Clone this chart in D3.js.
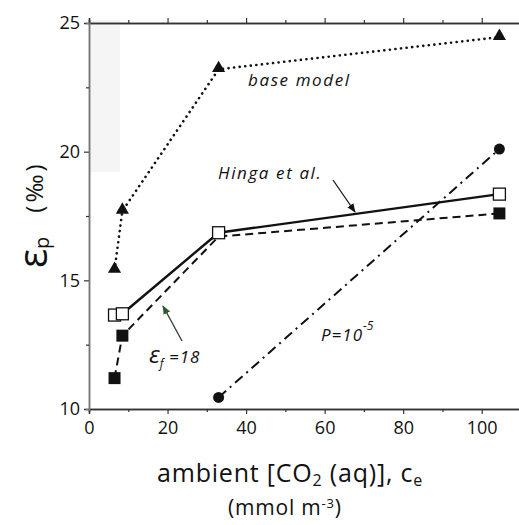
<!DOCTYPE html>
<html>
<head>
<meta charset="utf-8">
<script src="https://cdn.jsdelivr.net/npm/d3@7"></script>
<style>
  body { margin: 0; background: #fff; }
  text { font-family: "Open Sans", "DejaVu Sans", sans-serif; fill: #111; }
</style>
</head>
<body>
<div id="chart"></div>
<script>
// data
let ce = [6.5, 8.5, 33, 104.5];
let baseModel = [15.4, 17.7, 23.2, 24.45];
let hinga = [13.65, 13.7, 16.85, 18.35];
let epsF18 = [11.2, 12.85, 16.7, 17.6];
let ceP = [33, 104.5];
let p1e5 = [10.45, 20.1];
let xTicks = [0, 20, 40, 60, 80, 100];
let yTicks = [10, 15, 20, 25];

let W = 519, H = 525;
let svg = d3.select("#chart").append("svg")
    .attr("width", W)
    .attr("height", H);

let x = d3.scaleLinear().domain([0, 110]).range([89, 521]);
let y = d3.scaleLinear().domain([10, 25]).range([409, 23]);

// faint scan artifact at top-left of plot
svg.append("rect")
    .attr("x", 89).attr("y", 20)
    .attr("width", 31).attr("height", 152)
    .attr("fill", "#f5f5f5");

// axes
let bottomAx = svg.append("g").attr("transform", "translate(0," + y(10) + ")")
    .call(d3.axisBottom(x).tickValues(xTicks).tickSize(5).tickPadding(7).tickFormat(d3.format("d")));
let bottomMinor = svg.append("g").attr("transform", "translate(0," + y(10) + ")")
    .call(d3.axisBottom(x).tickValues([10, 30, 50, 70, 90]).tickSize(3).tickFormat(""));
let topAx = svg.append("g").attr("transform", "translate(0," + y(25) + ")")
    .call(d3.axisTop(x).tickValues(xTicks).tickSize(5).tickFormat(""));
let topMinor = svg.append("g").attr("transform", "translate(0," + y(25) + ")")
    .call(d3.axisTop(x).tickValues([10, 30, 50, 70, 90]).tickSize(3).tickFormat(""));
let leftAx = svg.append("g").attr("transform", "translate(" + x(0) + ",0)")
    .call(d3.axisLeft(y).tickValues(yTicks).tickSize(5).tickPadding(4).tickFormat(d3.format("d")));
let leftMinor = svg.append("g").attr("transform", "translate(" + x(0) + ",0)")
    .call(d3.axisLeft(y).tickValues([12.5, 17.5, 22.5]).tickSize(3).tickFormat(""));

[bottomAx, bottomMinor, topAx, topMinor, leftAx, leftMinor].forEach(g => {
    g.select(".domain").attr("stroke", "#333").attr("stroke-width", 1.5);
    g.selectAll(".tick line").attr("stroke", "#333").attr("stroke-width", 1.2);
    g.selectAll("text").attr("font-size", 18).attr("fill", "#111")
        .style("font-family", "'Open Sans', 'DejaVu Sans', sans-serif");
});
leftAx.select(".domain").attr("stroke", "#777");
leftMinor.select(".domain").attr("stroke", "#777");

let line = d3.line()
    .x(d => x(d[0]))
    .y(d => y(d[1]));

function pts(xs, ys) { return xs.map((v, i) => [v, ys[i]]); }

// lines
svg.append("path").datum(pts(ce, baseModel)).attr("d", line)
    .attr("fill", "none").attr("stroke", "#111").attr("stroke-width", 2.6)
    .attr("stroke-dasharray", "0.1 5.5").attr("stroke-linecap", "round");
svg.append("path").datum(pts(ce, epsF18)).attr("d", line)
    .attr("fill", "none").attr("stroke", "#111").attr("stroke-width", 2)
    .attr("stroke-dasharray", "8 5");
svg.append("path").datum(pts(ce, hinga)).attr("d", line)
    .attr("fill", "none").attr("stroke", "#111").attr("stroke-width", 2.4);
svg.append("path").datum(pts(ceP, p1e5)).attr("d", line)
    .attr("fill", "none").attr("stroke", "#111").attr("stroke-width", 2)
    .attr("stroke-dasharray", "10 5 2 5");

// markers
let tri = d3.symbol().type(d3.symbolTriangle).size(75);
svg.selectAll(".tri").data(pts(ce, baseModel)).join("path")
    .attr("transform", d => "translate(" + x(d[0]) + "," + (y(d[1]) - 1) + ")")
    .attr("d", tri).attr("fill", "#111");

svg.selectAll(".fsq").data(pts(ce, epsF18).filter((d, i) => i !== 2)).join("rect")
    .attr("x", d => x(d[0]) - 6).attr("y", d => y(d[1]) - 6)
    .attr("width", 12).attr("height", 12).attr("fill", "#111");

svg.selectAll(".osq").data(pts(ce, hinga)).join("rect")
    .attr("x", d => x(d[0]) - 6).attr("y", d => y(d[1]) - 6)
    .attr("width", 12).attr("height", 12)
    .attr("fill", "#fff").attr("stroke", "#111").attr("stroke-width", 1.3);

svg.selectAll(".circ").data(pts(ceP, p1e5)).join("circle")
    .attr("cx", d => x(d[0])).attr("cy", d => y(d[1]))
    .attr("r", 5.5).attr("fill", "#111");

// annotations
svg.append("text").attr("x", 248).attr("y", 86)
    .attr("font-size", 17).attr("letter-spacing", 1.6)
    .attr("font-style", "italic").text("base model");
svg.append("text").attr("x", 218).attr("y", 179)
    .attr("font-size", 17).attr("letter-spacing", 1.6)
    .attr("font-style", "italic").text("Hinga et al.");

svg.append("defs").append("marker")
    .attr("id", "ah").attr("viewBox", "0 0 10 10").attr("refX", 9).attr("refY", 5)
    .attr("markerWidth", 7).attr("markerHeight", 7).attr("orient", "auto")
    .append("path").attr("d", "M0,1 L10,5 L0,9 Z").attr("fill", "#111");
svg.select("defs").append("marker")
    .attr("id", "ahg").attr("viewBox", "0 0 10 10").attr("refX", 9).attr("refY", 5)
    .attr("markerWidth", 7).attr("markerHeight", 7).attr("orient", "auto")
    .append("path").attr("d", "M0,1 L10,5 L0,9 Z").attr("fill", "#2f5a35");

svg.append("line").attr("x1", 333).attr("y1", 180).attr("x2", 355).attr("y2", 212)
    .attr("stroke", "#111").attr("stroke-width", 1.3).attr("marker-end", "url(#ah)");
svg.append("line").attr("x1", 182).attr("y1", 341).attr("x2", 163).attr("y2", 306)
    .attr("stroke", "#2a3a2c").attr("stroke-width", 1.3).attr("marker-end", "url(#ahg)");

let ef = svg.append("text").attr("x", 149).attr("y", 363)
    .attr("font-size", 17).attr("font-style", "italic");
ef.append("tspan").attr("font-size", 24).text("\u03b5");
ef.append("tspan").attr("font-size", 12).attr("dy", 5).text("f");
ef.append("tspan").attr("dy", -5).attr("letter-spacing", 1).text(" =18");

let pl = svg.append("text").attr("x", 321).attr("y", 341)
    .attr("font-size", 17).attr("font-style", "italic");
pl.append("tspan").attr("letter-spacing", 1).text("P=10");
pl.append("tspan").attr("font-size", 12).attr("dy", -11).text("-5");

// axis titles
let yl = svg.append("text")
    .attr("transform", "translate(47,268) rotate(-90)");
yl.append("tspan").attr("font-size", 40).text("\u03b5");
yl.append("tspan").attr("font-size", 20).attr("dy", 2).text("p");
yl.append("tspan").attr("font-size", 24).attr("letter-spacing", 3)
    .attr("dx", 24).attr("dy", -6).text("(\u2030)");

let xl = svg.append("text").attr("x", 157).attr("y", 482)
    .attr("font-size", 25).attr("letter-spacing", 0.8);
xl.append("tspan").text("ambient [CO");
xl.append("tspan").attr("font-size", 16).attr("dy", 4).text("2");
xl.append("tspan").attr("dy", -4).text(" (aq)], c");
xl.append("tspan").attr("font-size", 16).attr("dy", 4).text("e");

let ul = svg.append("text").attr("x", 228).attr("y", 515)
    .attr("font-size", 21).attr("letter-spacing", 0.8);
ul.append("tspan").text("(mmol m");
ul.append("tspan").attr("font-size", 13).attr("dy", -7).text("-3");
ul.append("tspan").attr("dy", 7).text(")");
</script>
</body>
</html>
